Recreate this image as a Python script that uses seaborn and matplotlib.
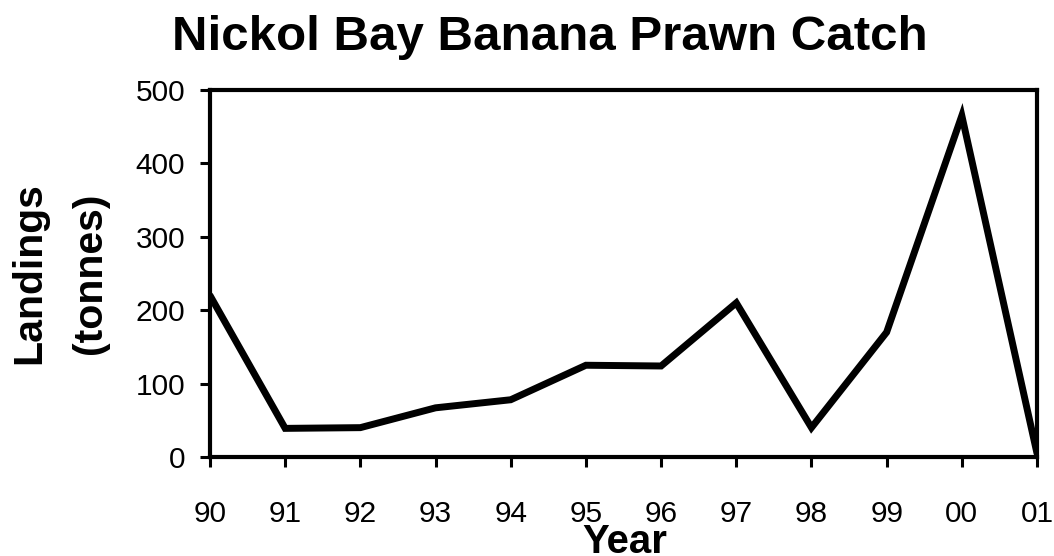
import matplotlib
matplotlib.use("Agg")
import matplotlib.pyplot as plt
import seaborn as sns
import pandas as pd

# Annual banana prawn landings, Nickol Bay
years = ["90", "91", "92", "93", "94", "95", "96", "97", "98", "99", "00", "01"]
landings = [220, 39, 40, 67, 78, 125, 124, 210, 40, 170, 465, 5]
y_ticks = [0, 100, 200, 300, 400, 500]

sns.set_theme(style="white")
plt.rcParams["font.family"] = ["Liberation Sans", "DejaVu Sans"]

df = pd.DataFrame({"Year": years, "Landings": landings})

fig = plt.figure(figsize=(10.54, 5.56), dpi=100)
ax = fig.add_axes([210 / 1054, 1 - 457 / 556, 827 / 1054, 367 / 556])

sns.lineplot(data=df, x="Year", y="Landings", ax=ax, color="black",
             linewidth=5, sort=False, solid_joinstyle="miter")

ax.set_xlim(0, len(years) - 1)
ax.set_ylim(0, 500)
ax.set_yticks(y_ticks)
ax.set_yticklabels([str(v) for v in y_ticks])

for side in ["left", "right", "top", "bottom"]:
    ax.spines[side].set_visible(True)
    ax.spines[side].set_color("black")
    ax.spines[side].set_linewidth(3)

ax.tick_params(axis="both", which="major", direction="out", length=7, width=2.2,
               color="black", labelsize=21.5, labelcolor="black")
ax.tick_params(axis="y", left=True, pad=11)
ax.tick_params(axis="x", bottom=True, pad=24)

fig.text(549.5 / 1054, 1 - 50 / 556, "Nickol Bay Banana Prawn Catch",
         fontsize=35.5, fontweight="bold", color="black",
         ha="center", va="baseline")

ax.set_xlabel("Year", fontsize=29, fontweight="bold", color="black")
ax.xaxis.set_label_coords(0.502, -0.179)
ax.set_ylabel("Landings\n(tonnes)", fontsize=29.5, fontweight="bold",
              color="black", linespacing=1.75)
ax.yaxis.set_label_coords(-0.122, 0.5)

fig.savefig("out.png", dpi=100)
